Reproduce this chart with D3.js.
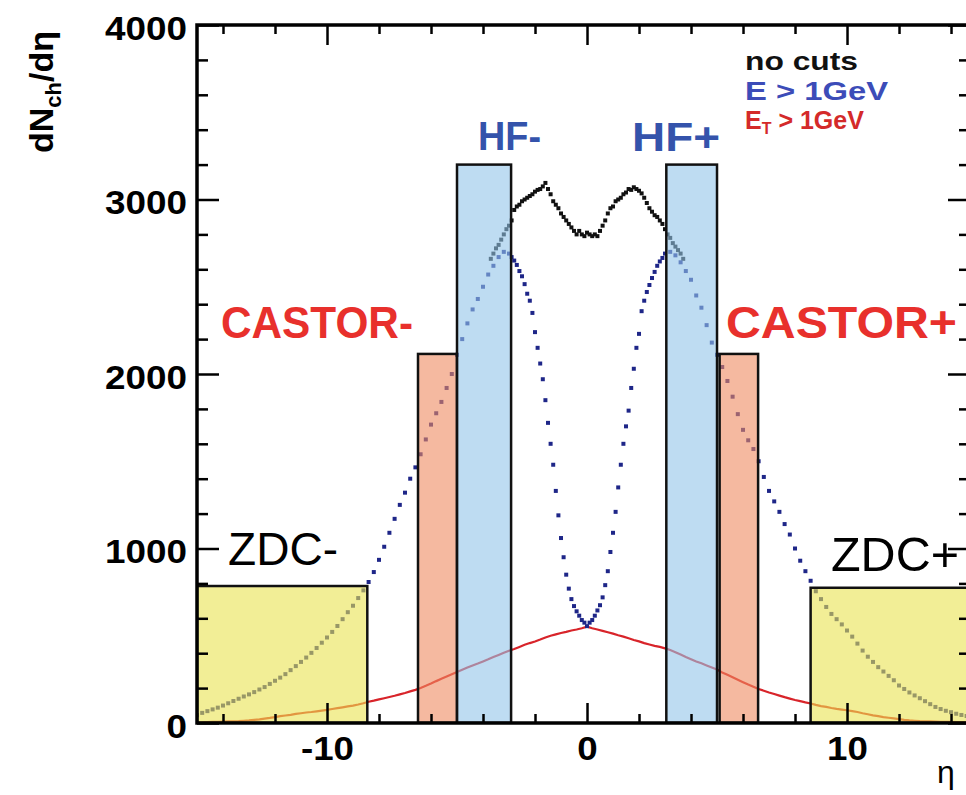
<!DOCTYPE html>
<html><head><meta charset="utf-8">
<script src="https://cdn.jsdelivr.net/npm/d3@7"></script>
<style>body{margin:0;background:#fff}svg{display:block}</style>
</head><body>
<script>
// ---------------- data ----------------
// E > 1 GeV, eta = -15.0 ... -3.2 (step 0.2)
const blueLeftVals = [45,58,68,78,88,100,113,126,139,152,
  164,177,192,206,224,242,260,280,303,326,
  350,375,402,430,460,490,522,556,595,635,
  672,716,760,808,865,935,1010,1090,1170,1250,
  1320,1400,1465,1540,1625,1710,1775,1840,1920,2000,
  2110,2200,2290,2370,2430,2500,2570,2620,2670,2700];
// E > 1 GeV, eta = -3.0 ... 3.0 (step 0.1)
const blueCenterVals = [2690,2670,2650,2625,2590,2560,2515,2460,2420,2350,
  2240,2150,2060,1970,1850,1720,1600,1480,1330,1190,
  1060,950,850,770,710,670,640,615,590,575,
  555,
  575,590,615,645,675,720,790,870,980,1090,
  1210,1350,1480,1600,1700,1790,1920,2030,2150,2230,
  2360,2420,2470,2510,2550,2585,2620,2645,2665,2690];
// E > 1 GeV, eta = 3.2 ... 15.0 (step 0.2)
const blueRightVals = [2700,2680,2640,2590,2540,2450,2380,2280,2180,2110,
  2040,1960,1870,1770,1680,1620,1570,1500,1410,1330,
  1270,1210,1140,1080,1000,930,870,815,755,710,
  665,625,595,565,530,495,455,415,380,350,
  320,295,270,245,215,195,175,158,142,125,
  108,92,80,70,62,53,46,40,34,30];
// no cuts, eta = -3.7 ... 3.7 (step 0.1)
const blackVals = [2660,2690,2720,2740,2770,2800,2830,2850,2880,2940,
  2960,2970,2990,3000,3010,3020,3030,3045,3055,3060,
  3075,3095,3060,3030,2990,2970,2950,2920,2900,2880,
  2860,2840,2820,2800,2820,2800,2790,2810,2800,2790,
  2800,2790,2820,2850,2880,2920,2950,2960,2990,3000,
  3010,3030,3040,3060,3055,3070,3060,3050,3035,3010,
  2980,2950,2930,2910,2900,2880,2860,2830,2800,2780,
  2750,2730,2710,2690,2660];
// E_T > 1 GeV, eta = -15.0 ... 15.0 (step 0.2)
const redVals = [3,4,5,6,7,8,9,10,11,13,
  15,18,21,25,29,34,39,43,47,52,
  56,60,63,67,71,75,80,85,90,95,
  100,106,113,122,128,135,142,149,156,164,
  172,181,190,201,213,226,240,253,266,279,
  292,305,318,330,341,353,365,378,390,402,
  414,424,436,448,458,467,478,490,500,508,
  516,522,530,536,543,552,543,536,528,520,
  512,503,495,486,476,468,458,450,442,436,
  428,418,406,392,378,365,352,342,330,318,
  306,290,276,262,248,234,220,208,195,185,
  175,166,157,148,140,132,125,118,112,104,
  97,92,86,81,77,73,68,63,56,50,
  44,39,34,30,26,22,18,15,13,11,
  10,9,8,7,6,6,5,5,4,4,3];
// detector acceptances
const detNames = ["ZDC-","CASTOR-","HF-","HF+","CASTOR+","ZDC+"];
const detLo    = [-15, -6.5, -5.0, 3.05, 5.1, 8.6];
const detHi    = [-8.45, -5.0, -2.92, 5.0, 6.58, 15];
const detTop   = [785, 2115, 3200, 3200, 2115, 775];
const detKind  = ["zdc","castor","hf","hf","castor","zdc"];
const xMajor = [-10, 0, 10];
const xMinor = [-14,-12,-8,-6,-4,-2,2,4,6,8,12,14];
const yMajor = [0,1000,2000,3000,4000];
const yMinor = d3.range(200, 4000, 200).filter(v => v % 1000 !== 0);
const legendLabels = ["no cuts", "E > 1GeV", "E", "T", " > 1GeV"];

// ---------------- build series ----------------
const r1 = v => Math.round(v*10)/10;
const blueData = [
  ...blueLeftVals.map((v,i)=>[r1(-15+0.2*i), v]),
  ...blueCenterVals.map((v,i)=>[r1(-3+0.1*i), v]),
  ...blueRightVals.map((v,i)=>[r1(3.2+0.2*i), v])];
const blackData = blackVals.map((v,i)=>[r1(-3.7+0.1*i), v]);
const redData = redVals.map((v,i)=>[r1(-15+0.2*i), v]);

// ---------------- chart ----------------
const W = 966, H = 795;
const L = 197, R = 970, T = 25, B = 723;
const svg = d3.select("body").append("svg").attr("width", W).attr("height", H);
const x = d3.scaleLinear().domain([-15, 14.73]).range([L, R]);
const y = d3.scaleLinear().domain([0, 4000]).range([B, T]);
const FONT = "'Liberation Sans', Arial, Helvetica, sans-serif";

svg.append("defs").append("clipPath").attr("id","clip")
  .append("rect").attr("x",L).attr("y",T).attr("width",R-L).attr("height",B-T);
const plot = svg.append("g").attr("clip-path","url(#clip)");

// red line
plot.append("path").datum(redData)
  .attr("fill","none").attr("stroke","#d8242a").attr("stroke-width",2.2)
  .attr("d", d3.line().x(d=>x(d[0])).y(d=>y(d[1])));

// black markers
plot.append("g").selectAll("rect").data(blackData).join("rect")
  .attr("x",d=>x(d[0])-2).attr("y",d=>y(d[1])-2)
  .attr("width",4).attr("height",4).attr("fill","#111");
// blue markers
plot.append("g").selectAll("rect").data(blueData).join("rect")
  .attr("x",d=>x(d[0])-2).attr("y",d=>y(d[1])-2)
  .attr("width",4).attr("height",4).attr("fill","#1e2688");

// detector boxes (semi-transparent, on top)
const fills = {zdc:"#e9e350", castor:"#ee8a61", hf:"#93c5e9"};
plot.append("g").selectAll("rect").data(detNames.map((n,i)=>i)).join("rect")
  .attr("x", i=>x(detLo[i])).attr("width", i=>x(detHi[i])-x(detLo[i]))
  .attr("y", i=>y(detTop[i])).attr("height", i=>y(0)-y(detTop[i]))
  .attr("fill", i=>fills[detKind[i]]).attr("fill-opacity",0.6)
  .attr("stroke","#111").attr("stroke-width",2.5);

// axes: ticks pointing inward
function ticks(axisGen, tr, vals, size, labels){
  const g = svg.append("g").attr("transform", tr)
    .call(axisGen.tickValues(vals).tickSize(size).tickSizeOuter(0).tickPadding(13)
      .tickFormat(labels ? (d => String(d)) : ""));
  g.select(".domain").remove();
  g.selectAll(".tick line").attr("stroke","#000").attr("stroke-width",2.5);
  return g;
}
const gxb = ticks(d3.axisBottom(x), `translate(0,${B})`, xMajor, -20, true);
ticks(d3.axisBottom(x), `translate(0,${B})`, xMinor, -9, false);
ticks(d3.axisTop(x), `translate(0,${T})`, xMajor, -20, false);
ticks(d3.axisTop(x), `translate(0,${T})`, xMinor, -9, false);
const gyl = ticks(d3.axisLeft(y), `translate(${L},0)`, yMajor, -22, true);
ticks(d3.axisLeft(y), `translate(${L},0)`, yMinor, -11, false);
ticks(d3.axisRight(y), `translate(${R},0)`, yMajor, -22, false);
ticks(d3.axisRight(y), `translate(${R},0)`, yMinor, -11, false);

gxb.selectAll("text").attr("font-family",FONT).attr("font-weight","bold")
  .attr("font-size",34).attr("fill","#000").attr("y",0).attr("dy",0)
  .attr("transform","translate(0,37) scale(1.08,1)");
gyl.selectAll("text").attr("font-family",FONT).attr("font-weight","bold")
  .attr("font-size",33.5).attr("fill","#000").attr("x",0).attr("dy","0.42em")
  .attr("transform","translate(-10,0) scale(1.1,1)");

// frame
svg.append("rect").attr("x",L).attr("y",T).attr("width",R-L).attr("height",B-T)
  .attr("fill","none").attr("stroke","#000").attr("stroke-width",3.5);

// text helper
function txt(xp, yp, s, size, weight, color, len){
  const t = svg.append("text").attr("x",xp).attr("y",yp)
    .attr("font-family",FONT).attr("font-size",size).attr("font-weight",weight)
    .attr("fill",color).text(s);
  if (len) t.attr("textLength",len).attr("lengthAdjust","spacingAndGlyphs");
  return t;
}
// detector labels
txt(478, 150, detNames[2], 40, "bold", "#3453ab", 63);
txt(632, 151, detNames[3], 40, "bold", "#3453ab", 88);
txt(221, 338, detNames[1], 44, "bold", "#e8302c", 192);
txt(726, 338, detNames[4], 44, "bold", "#e8302c", 231);
txt(228, 565, detNames[0], 46, "normal", "#000", 110);
txt(831, 571, detNames[5], 49, "normal", "#000", 128);

// legend
txt(745, 70, legendLabels[0], 25, "bold", "#111", 113);
txt(745, 100, legendLabels[1], 25, "bold", "#3c4cb8", 143);
const lt = svg.append("text").attr("x",745).attr("y",129)
  .attr("font-family",FONT).attr("font-size",25).attr("font-weight","bold").attr("fill","#d42a2a");
lt.append("tspan").text(legendLabels[2]);
lt.append("tspan").attr("font-size",16).attr("dy",5).text(legendLabels[3]);
lt.append("tspan").attr("dy",-5).text(legendLabels[4]);

// axis titles
const yl = svg.append("text").attr("transform","translate(53,153) rotate(-90)")
  .attr("font-family",FONT).attr("font-size",34).attr("font-weight","bold").attr("fill","#000");
yl.append("tspan").text("dN");
yl.append("tspan").attr("font-size",22).attr("dy",8).text("ch");
yl.append("tspan").attr("dy",-8).text("/dη");
txt(946, 783, "η", 32, "normal", "#000").attr("text-anchor","middle");
</script>
</body></html>
